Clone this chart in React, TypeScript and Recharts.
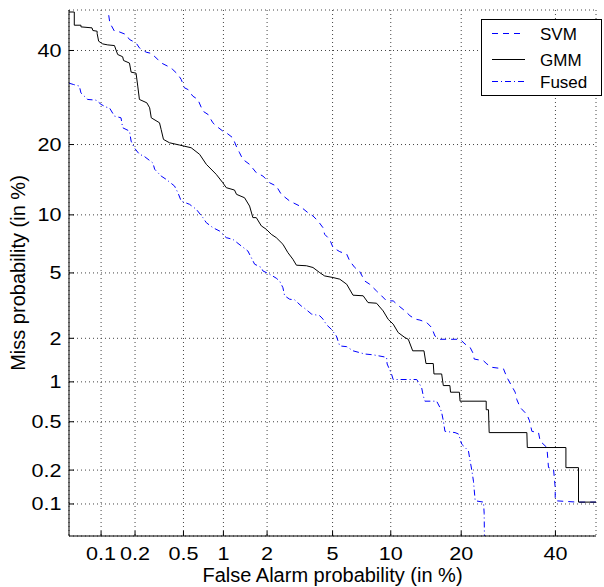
import React from "react";
import { CartesianGrid, Line, LineChart, XAxis, YAxis } from "recharts";

// DET curves, [false alarm %, miss %]
const svmPoints: [number, number][] = [
  [0.1173, 48.7], [0.12, 46.8], [0.132, 44.72], [0.146, 44.55], [0.167, 43.9], [0.179, 42.68],
  [0.204, 41.85], [0.218, 40.63], [0.249, 39.59], [0.2745, 39.3], [0.311, 37.85], [0.331, 37.04],
  [0.375, 36.25], [0.411, 35.49], [0.452, 34.34], [0.48, 33.2], [0.509, 31.32], [0.541, 30.96],
  [0.591, 29.5], [0.646, 28.78], [0.705, 26.35], [0.769, 25.69], [0.837, 24.03], [0.886, 23.4],
  [0.99, 22.44], [1.048, 22.13], [1.168, 21.2], [1.234, 19.73], [1.302, 18.59], [1.373, 17.5],
  [1.527, 16.71], [1.695, 15.44], [1.877, 14.95], [2.077, 13.99], [2.295, 13.54], [2.47, 12.45],
  [2.79, 11.6], [3.213, 11.01], [3.605, 10.24], [3.86, 9.88], [4.13, 9.34], [4.41, 8.67],
  [4.51, 8.03], [4.817, 7.57], [5.03, 6.86], [5.48, 6.53], [5.98, 6.33], [6.206, 5.82],
  [6.6, 5.36], [7.01, 5.09], [7.44, 4.5], [7.89, 4.31], [8.53, 3.94], [9.03, 3.69],
  [9.55, 3.44], [10.27, 3.44], [11.03, 3.17], [11.65, 2.99], [12.27, 2.79], [12.92, 2.66],
  [13.58, 2.62], [14.52, 2.53], [15.24, 2.35], [15.73, 2.07], [16.49, 1.97], [19.8, 1.97],
  [20.69, 1.83], [21.59, 1.74], [22.21, 1.57], [22.34, 1.45], [24.12, 1.41], [24.79, 1.34],
  [25.78, 1.27], [28.17, 1.24], [28.89, 1.08], [30.69, 0.84], [31.06, 0.74], [31.79, 0.645],
  [33.3, 0.57], [33.89, 0.51], [34.44, 0.42], [35.98, 0.41], [36.37, 0.35], [37.96, 0.31],
  [38.34, 0.21], [39.54, 0.205], [39.95, 0.14], [39.95, 0.107], [45.25, 0.104], [50, 0.104],
];

const gmmPoints: [number, number][] = [
  [0.05, 49.5], [0.0562, 49.5], [0.0562, 46.21], [0.065, 46.21], [0.065, 45.8], [0.0825, 45.55],
  [0.084, 44.9], [0.092, 44.72], [0.092, 44.15], [0.095, 42.26], [0.1035, 41.6], [0.115, 41.36],
  [0.132, 41.2], [0.141, 39.04], [0.156, 38.5], [0.159, 37.6], [0.179, 37.0], [0.185, 34.87],
  [0.204, 34.64], [0.211, 31.7], [0.218, 28.79], [0.252, 28.07], [0.266, 27.03], [0.2745, 25.0],
  [0.321, 24.03], [0.331, 22.76], [0.346, 20.91], [0.387, 20.31], [0.466, 19.91], [0.574, 19.44],
  [0.666, 18.33], [0.748, 16.72], [0.886, 15.2], [0.99, 13.99], [1.048, 13.32], [1.2, 13.0],
  [1.24, 12.44], [1.41, 12.01], [1.527, 11.0], [1.608, 9.7], [1.695, 9.7], [1.833, 8.84],
  [1.975, 8.51], [2.13, 8.03], [2.295, 7.72], [2.53, 7.14], [2.72, 6.45], [2.92, 5.95],
  [3.07, 5.52], [3.53, 5.48], [3.86, 5.36], [4.226, 5.02], [4.51, 4.81], [5.03, 4.71],
  [5.48, 4.61], [5.98, 4.31], [6.46, 3.72], [7.3, 3.69], [7.73, 3.36], [8.53, 3.33],
  [9.19, 2.99], [9.72, 2.65], [10.27, 2.47], [10.84, 2.18], [11.65, 2.02], [12.06, 1.97],
  [12.62, 1.65], [14.14, 1.65], [14.42, 1.35], [15.48, 1.35], [15.58, 1.14], [16.76, 1.14],
  [17.02, 0.94], [18.08, 0.94], [18.19, 0.84], [19.68, 0.84], [19.8, 0.72], [24.65, 0.72],
  [24.65, 0.62], [25.1, 0.62], [25.24, 0.41], [33.3, 0.41], [33.4, 0.31], [42.55, 0.31],
  [42.55, 0.21], [45.65, 0.21], [45.65, 0.104], [50, 0.104],
];

const fusedPoints: [number, number][] = [
  [0.05, 32.36], [0.055, 32.07], [0.0628, 31.7], [0.065, 30.2], [0.0751, 28.79], [0.09, 28.64],
  [0.1, 27.74], [0.111, 27.18], [0.119, 27.04], [0.132, 25.35], [0.151, 25.0], [0.156, 23.07],
  [0.179, 22.44], [0.185, 20.6], [0.197, 19.44], [0.218, 18.33], [0.2375, 18.05], [0.283, 16.93],
  [0.293, 15.95], [0.331, 14.95], [0.364, 14.47], [0.425, 13.54], [0.452, 12.65], [0.48, 11.6],
  [0.557, 11.21], [0.628, 10.63], [0.705, 9.7], [0.748, 9.17], [0.837, 8.67], [0.937, 8.34],
  [1.048, 7.72], [1.168, 7.57], [1.337, 7.0], [1.487, 6.58], [1.568, 6.07], [1.652, 5.59],
  [1.833, 5.36], [1.877, 5.13], [2.077, 4.92], [2.295, 4.67], [2.411, 4.5], [2.53, 4.12],
  [2.594, 3.69], [2.79, 3.52], [2.994, 3.49], [3.29, 3.2], [3.445, 3.1], [3.78, 2.86],
  [4.226, 2.79], [4.41, 2.66], [4.62, 2.45], [4.92, 2.29], [5.25, 2.07], [5.48, 1.78],
  [5.98, 1.76], [6.46, 1.65], [7.44, 1.57], [8.2, 1.55], [9.55, 1.49], [9.61, 1.34],
  [10.08, 1.14], [10.27, 1.04], [13.15, 1.04], [13.81, 0.91], [14.04, 0.79], [14.27, 0.72],
  [15.99, 0.72], [16.49, 0.645], [16.76, 0.59], [17.02, 0.51], [17.28, 0.42], [18.94, 0.41],
  [19.51, 0.4], [20.1, 0.33], [20.69, 0.31], [21.29, 0.29], [21.59, 0.24], [21.9, 0.2],
  [22.21, 0.16], [22.53, 0.107], [24.12, 0.104], [24.25, 0.082], [24.3, 0.05],
];

const tickLabels = ["0.1", "0.2", "0.5", "1", "2", "5", "10", "20", "40"];
const axisRange = [0.05, 50]; // percent
const seriesNames = ["SVM", "GMM", "Fused"];

const font = '"Liberation Sans", Arial, Helvetica, sans-serif';

// inverse of the standard normal CDF (Acklam's approximation)
function probit(p: number): number {
  const a = [-39.69683028665376, 220.9460984245205, -275.9285104469687, 138.357751867269, -30.66479806614716, 2.506628277459239];
  const b = [-54.47609879822406, 161.5858368580409, -155.6989798598866, 66.80131188771972, -13.28068155288572];
  const c = [-0.007784894002430293, -0.3223964580411365, -2.400758277161838, -2.549732539343734, 4.374664141464968, 2.938163982698783];
  const d = [0.007784695709041462, 0.3224671290700398, 2.445134137142996, 3.754408661907416];
  const plow = 0.02425;
  if (p < plow) {
    const q = Math.sqrt(-2 * Math.log(p));
    return (((((c[0] * q + c[1]) * q + c[2]) * q + c[3]) * q + c[4]) * q + c[5]) /
      ((((d[0] * q + d[1]) * q + d[2]) * q + d[3]) * q + 1);
  }
  if (p <= 1 - plow) {
    const q = p - 0.5;
    const r = q * q;
    return ((((((a[0] * r + a[1]) * r + a[2]) * r + a[3]) * r + a[4]) * r + a[5]) * q) /
      (((((b[0] * r + b[1]) * r + b[2]) * r + b[3]) * r + b[4]) * r + 1);
  }
  const q = Math.sqrt(-2 * Math.log(1 - p));
  return -(((((c[0] * q + c[1]) * q + c[2]) * q + c[3]) * q + c[4]) * q + c[5]) /
    ((((d[0] * q + d[1]) * q + d[2]) * q + d[3]) * q + 1);
}

const toDet = (pts: [number, number][]) =>
  pts.map(([fa, miss]) => ({ x: probit(fa / 100), y: probit(miss / 100) }));

const svmData = toDet(svmPoints);
const gmmData = toDet(gmmPoints);
const fusedData = toDet(fusedPoints);

const ticks = tickLabels.map((t) => probit(Number(t) / 100));
const domain = axisRange.map((v) => probit(v / 100));

const labelFor = (value: number) =>
  tickLabels.find((t) => Math.abs(probit(Number(t) / 100) - value) < 1e-6) ?? "";

const styles = [
  { color: "#0000ff", dash: "6 5" },
  { color: "#000000", dash: undefined },
  { color: "#0000ff", dash: "6 3 1 3" },
];

function XTick(props: any) {
  const { x, y, payload } = props;
  return (
    <g>
      <line x1={x} y1={y} x2={x} y2={y - 5} stroke="#000" />
      <text
        transform={`translate(${x},${y + 24}) scale(1.2,1)`}
        textAnchor="middle"
        fontSize={18}
        fontFamily={font}
        fill="#000"
      >
        {labelFor(payload.value)}
      </text>
    </g>
  );
}

function YTick(props: any) {
  const { x, y, payload } = props;
  return (
    <g>
      <line x1={x} y1={y} x2={x + 5} y2={y} stroke="#000" />
      <text
        transform={`translate(${x - 7.5},${y + 6.5}) scale(1.2,1)`}
        textAnchor="end"
        fontSize={18}
        fontFamily={font}
        fill="#000"
      >
        {labelFor(payload.value)}
      </text>
    </g>
  );
}

// legend box drawn in the chart svg, top right corner
function LegendBox() {
  const rowY = [33.5, 59.5, 81.5];
  return (
    <g>
      <rect x={481.5} y={19.5} width={120} height={76} fill="#fff" stroke="#000" />
      {seriesNames.map((name, i) => (
        <g key={name}>
          <line
            x1={492}
            x2={525}
            y1={rowY[i]}
            y2={rowY[i]}
            stroke={styles[i].color}
            strokeDasharray={styles[i].dash}
          />
          <text x={540} y={rowY[i] + 6} fontSize={17} fontFamily={font} fill="#000">
            {name}
          </text>
        </g>
      ))}
    </g>
  );
}

export default function App() {
  const datasets = [svmData, gmmData, fusedData];
  return (
    <div style={{ position: "absolute", left: 0, top: 0, background: "#fff" }}>
      <LineChart width={604} height={587} margin={{ top: 10, right: 8, bottom: 0, left: 0 }}>
        <CartesianGrid stroke="#444" strokeDasharray="1 3" />
        <XAxis
          type="number"
          dataKey="x"
          domain={domain}
          allowDataOverflow
          ticks={ticks}
          interval={0}
          height={51}
          tickSize={0}
          tickMargin={0}
          tick={<XTick />}
          axisLine={{ stroke: "#000" }}
          label={{
            content: () => (
              <g>
                <text x={332.5} y={581.5} textAnchor="middle" fontSize={20} fontFamily={font} fill="#000">
                  False Alarm probability (in %)
                </text>
                <LegendBox />
              </g>
            ),
          }}
        />
        <YAxis
          type="number"
          dataKey="y"
          domain={domain}
          allowDataOverflow
          ticks={ticks}
          interval={0}
          width={69}
          tickSize={0}
          tickMargin={0}
          tick={<YTick />}
          axisLine={{ stroke: "#000" }}
          label={{
            content: () => (
              <text
                transform="translate(24.5,273) rotate(-90)"
                textAnchor="middle"
                fontSize={20}
                fontFamily={font}
                fill="#000"
              >
                Miss probability (in %)
              </text>
            ),
          }}
        />
        {datasets.map((data, i) => (
          <Line
            key={seriesNames[i]}
            data={data}
            dataKey="y"
            name={seriesNames[i]}
            type="linear"
            stroke={styles[i].color}
            strokeWidth={1}
            strokeDasharray={styles[i].dash}
            dot={false}
            activeDot={false}
            isAnimationActive={false}
          />
        ))}
      </LineChart>
    </div>
  );
}
